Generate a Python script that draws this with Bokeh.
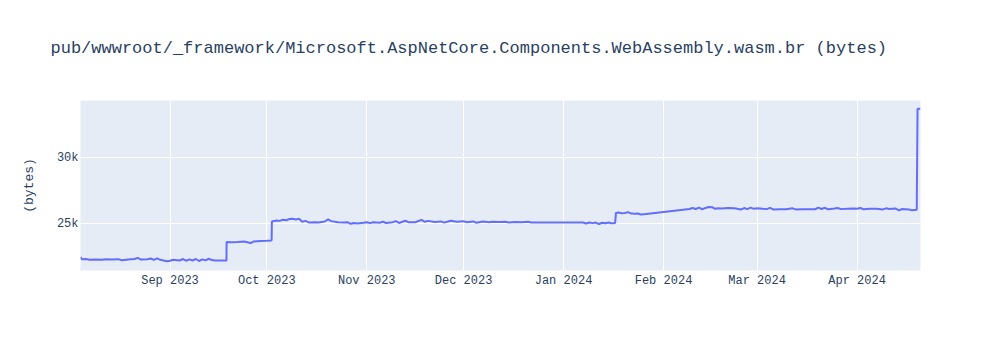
import pandas as pd
from bokeh.plotting import figure
from bokeh.models import Range1d, FixedTicker, Title
from bokeh.embed import file_html
from bokeh.resources import INLINE

title_text = "pub/wwwroot/_framework/Microsoft.AspNetCore.Components.WebAssembly.wasm.br (bytes)"
y_title = "(bytes)"

dates = [
    "2023-08-04 06:00", "2023-08-04 18:00", "2023-08-06", "2023-08-07", "2023-08-09", "2023-08-11",
    "2023-08-12", "2023-08-14", "2023-08-16", "2023-08-17", "2023-08-19", "2023-08-21",
    "2023-08-22", "2023-08-23", "2023-08-25", "2023-08-26", "2023-08-27", "2023-08-28",
    "2023-08-29", "2023-08-31", "2023-09-01", "2023-09-02", "2023-09-04", "2023-09-05",
    "2023-09-06", "2023-09-07", "2023-09-08", "2023-09-09", "2023-09-10", "2023-09-11",
    "2023-09-12", "2023-09-13", "2023-09-14", "2023-09-15", "2023-09-16", "2023-09-18 12:00",
    "2023-09-18 13:00", "2023-09-20", "2023-09-22", "2023-09-24", "2023-09-26", "2023-09-27",
    "2023-09-29", "2023-10-01", "2023-10-02 10:00", "2023-10-02 12:00", "2023-10-02 14:00",
    "2023-10-04", "2023-10-05", "2023-10-06", "2023-10-07", "2023-10-08", "2023-10-09",
    "2023-10-10", "2023-10-11", "2023-10-12", "2023-10-13", "2023-10-14", "2023-10-16",
    "2023-10-17", "2023-10-19", "2023-10-20", "2023-10-21", "2023-10-23", "2023-10-25",
    "2023-10-26", "2023-10-27", "2023-10-28", "2023-10-29", "2023-10-31", "2023-11-01",
    "2023-11-02", "2023-11-03", "2023-11-05", "2023-11-06", "2023-11-07", "2023-11-09",
    "2023-11-10", "2023-11-11", "2023-11-13", "2023-11-14", "2023-11-16", "2023-11-18",
    "2023-11-19", "2023-11-20", "2023-11-22", "2023-11-24", "2023-11-25", "2023-11-27",
    "2023-11-29", "2023-12-01", "2023-12-02", "2023-12-04", "2023-12-05", "2023-12-07",
    "2023-12-09", "2023-12-10", "2023-12-12", "2023-12-14", "2023-12-15", "2023-12-17",
    "2023-12-19", "2023-12-21", "2023-12-22", "2024-01-07", "2024-01-08", "2024-01-09",
    "2024-01-10", "2024-01-11", "2024-01-12", "2024-01-13", "2024-01-14", "2024-01-15",
    "2024-01-16", "2024-01-17 00:00", "2024-01-17 06:00", "2024-01-18", "2024-01-19",
    "2024-01-20", "2024-01-21", "2024-01-22", "2024-01-23", "2024-01-24", "2024-01-25",
    "2024-01-26", "2024-02-09", "2024-02-10", "2024-02-11", "2024-02-12", "2024-02-13",
    "2024-02-14", "2024-02-15", "2024-02-16", "2024-02-17", "2024-02-18", "2024-02-19",
    "2024-02-21", "2024-02-23", "2024-02-25", "2024-02-26", "2024-02-27", "2024-02-28",
    "2024-02-29", "2024-03-01", "2024-03-02", "2024-03-04", "2024-03-05", "2024-03-06",
    "2024-03-08", "2024-03-10", "2024-03-12", "2024-03-13", "2024-03-15", "2024-03-17",
    "2024-03-19", "2024-03-20", "2024-03-21", "2024-03-22", "2024-03-23", "2024-03-25",
    "2024-03-26", "2024-03-27", "2024-03-29", "2024-03-31", "2024-04-01", "2024-04-02",
    "2024-04-03", "2024-04-05", "2024-04-07", "2024-04-09", "2024-04-10", "2024-04-11",
    "2024-04-13", "2024-04-14", "2024-04-15", "2024-04-17", "2024-04-18", "2024-04-19 12:00",
    "2024-04-19 18:00", "2024-04-20 16:00",
]

sizes = [
    22470, 22310, 22330, 22280, 22300, 22270,
    22310, 22290, 22320, 22230, 22300, 22330,
    22420, 22290, 22310, 22370, 22260, 22380,
    22270, 22160, 22200, 22270, 22220, 22330,
    22200, 22300, 22220, 22330, 22180, 22300,
    22230, 22350, 22250, 22220, 22210, 22210,
    23620, 23600, 23620, 23650, 23540, 23660,
    23700, 23720, 23740, 23760, 25180,
    25250, 25220, 25300, 25270, 25360, 25380,
    25330, 25380, 25150, 25220, 25100, 25110,
    25100, 25170, 25330, 25200, 25110, 25100,
    25120, 25000, 25060, 25030, 25080, 25120,
    25050, 25110, 25080, 25150, 25060, 25120,
    25200, 25060, 25230, 25110, 25120, 25300,
    25150, 25220, 25130, 25180, 25090, 25230,
    25160, 25200, 25120, 25180, 25080, 25170,
    25110, 25160, 25130, 25150, 25100, 25140,
    25120, 25150, 25100, 25100, 25020, 25100,
    25050, 25090, 24980, 25080, 25040, 25100,
    25030, 25060, 25820, 25850, 25800,
    25810, 25880, 25770, 25760, 25780, 25700,
    25730, 26120, 26200, 26120, 26230, 26100,
    26200, 26270, 26260, 26140, 26170, 26150,
    26200, 26180, 26080, 26190, 26110, 26220,
    26130, 26170, 26150, 26110, 26210, 26090,
    26100, 26100, 26170, 26090, 26100, 26100,
    26100, 26220, 26120, 26210, 26100, 26160,
    26200, 26110, 26130, 26150, 26140, 26200,
    26100, 26130, 26130, 26090, 26170, 26120,
    26150, 26020, 26120, 26090, 26020, 26060,
    33710, 33710,
]

y_ticks = [25000, 30000]
y_tick_labels = ["25k", "30k"]
y_min, y_max = 21460, 34340

x_tick_dates = ["2023-09-01", "2023-10-01", "2023-11-01", "2023-12-01",
                "2024-01-01", "2024-02-01", "2024-03-01", "2024-04-01"]
x_tick_labels = ["Sep 2023", "Oct 2023", "Nov 2023", "Dec 2023",
                 "Jan 2024", "Feb 2024", "Mar 2024", "Apr 2024"]

FONT = "Liberation Mono"
TXT = "#2a3f5f"

x = pd.to_datetime(dates, format="ISO8601")

p = figure(width=1000, height=350, x_axis_type="datetime",
           output_backend="svg", toolbar_location=None,
           min_border_left=80, min_border_right=80,
           min_border_top=100, min_border_bottom=80)

p.x_range = Range1d(start=x.min(), end=x.max())
p.y_range = Range1d(start=y_min, end=y_max)

p.line(x, sizes, line_color="#636efa", line_width=2)

p.background_fill_color = "#E5ECF6"
p.border_fill_color = "white"
p.outline_line_color = None

xt_ms = [pd.Timestamp(d).value / 1e6 for d in x_tick_dates]
p.xaxis.ticker = FixedTicker(ticks=xt_ms)
p.xaxis.major_label_overrides = {t: l for t, l in zip(xt_ms, x_tick_labels)}
p.yaxis.ticker = FixedTicker(ticks=y_ticks)
p.yaxis.major_label_overrides = {t: l for t, l in zip(y_ticks, y_tick_labels)}

for ax in (p.xaxis, p.yaxis):
    ax.axis_line_color = None
    ax.major_tick_line_color = None
    ax.minor_tick_line_color = None
    ax.major_tick_out = 0
    ax.major_tick_in = 0
    ax.minor_tick_out = 0
    ax.minor_tick_in = 0
    ax.major_label_text_font = FONT
    ax.major_label_text_font_size = "12px"
    ax.major_label_text_color = TXT
p.xaxis.major_label_standoff = 3
p.yaxis.major_label_standoff = 2

p.yaxis.axis_label = y_title
p.yaxis.axis_label_text_font = FONT
p.yaxis.axis_label_text_font_size = "13px"
p.yaxis.axis_label_text_font_style = "normal"
p.yaxis.axis_label_text_color = TXT
p.yaxis.axis_label_standoff = 17

p.xgrid.grid_line_color = "white"
p.ygrid.grid_line_color = "white"
p.xgrid.grid_line_width = 1
p.ygrid.grid_line_width = 1

# blank spacer panel between the frame and the title
spacer = Title(text=" ", standoff=22, text_font=FONT, text_font_size="17px")
p.add_layout(spacer, "above")

t = Title(text=title_text, align="left", offset=-30, standoff=0,
          text_font=FONT, text_font_size="17px", text_font_style="normal",
          text_color=TXT)
p.add_layout(t, "above")

open("out.html", "w").write(file_html(p, INLINE))
